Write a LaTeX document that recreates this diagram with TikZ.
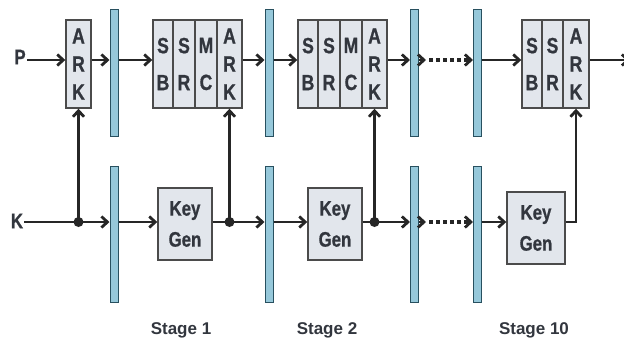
\documentclass[tikz,border=0pt]{standalone}
\usepackage{fontspec}
\setmainfont{Liberation Sans}
\newfontfamily\condfont{Liberation Sans}[UprightFont={* Bold}, BoldFont={* Bold}, FakeStretch=0.8, FakeBold=0.8]
\usetikzlibrary{arrows.meta}
\definecolor{boxfill}{RGB}{226,230,236}
\definecolor{boxline}{RGB}{75,75,75}
\definecolor{barfill}{RGB}{150,200,218}
\definecolor{barline}{RGB}{40,80,95}
\definecolor{txt}{RGB}{50,54,62}
\tikzset{
  cell/.style={draw=boxline, fill=boxfill, line width=1.4pt, minimum height=88pt, inner sep=0pt, text=txt, align=center},
  arkcell/.style={cell, font=\condfont\fontsize{22}{28}\selectfont},
  subcell/.style={cell, font=\condfont\fontsize{22}{37}\selectfont},
  gen/.style={draw=boxline, fill=boxfill, line width=1.4pt, minimum width=54pt, minimum height=72pt, inner sep=0pt, text=txt, align=center, font=\condfont\fontsize{21}{31}\selectfont},
  regt/.style={draw=barline, fill=barfill, line width=1pt, minimum width=8pt, minimum height=127pt, inner sep=0pt},
  regb/.style={draw=barline, fill=barfill, line width=1pt, minimum width=8pt, minimum height=136pt, inner sep=0pt},
  wire/.style={line width=2.8pt, black!85},
  arr/.style={wire, -{Straight Barb[length=6pt,width=11pt]}},
  dots/.style={line width=4pt, black!85, dash pattern=on 4pt off 3pt},
  jdot/.style={circle, fill=black!85, inner sep=0pt, minimum size=10pt},
  lbl/.style={font=\bfseries\fontsize{17}{20}\selectfont, text=txt},
  io/.style={font=\condfont\fontsize{21}{22}\selectfont, text=txt, inner sep=1pt}
}
\begin{document}
\begin{tikzpicture}[x=1pt,y=-1pt]
\useasboundingbox (0,0) rectangle (624,348);
% inputs
\node[io] (P) at (20,57) {P};
\node[io] (K) at (17,221) {K};
% initial ARK
\node[arkcell, minimum width=25pt] (ark0) at (78.5,64) {A\\R\\K};
% register bars
\node[regt] (b1t) at (114,72.5) {};
\node[regb] (b1b) at (114,234) {};
\node[regt] (b2t) at (269,72.5) {};
\node[regb] (b2b) at (269,234) {};
\node[regt] (b3t) at (414.5,72.5) {};
\node[regb] (b3b) at (414.5,234) {};
\node[regt] (b4t) at (477.5,72.5) {};
\node[regb] (b4b) at (477.5,234) {};
% stage 1
\node[subcell, minimum width=20pt] (sb1) at (163,64) {S\\B};
\node[subcell, minimum width=22pt] (sr1) at (184,64) {S\\R};
\node[subcell, minimum width=22pt] (mc1) at (206,64) {M\\C};
\node[arkcell, minimum width=25pt] (ark1) at (229.5,64) {A\\R\\K};
% stage 2
\node[subcell, minimum width=20pt] (sb2) at (308,64) {S\\B};
\node[subcell, minimum width=22pt] (sr2) at (329,64) {S\\R};
\node[subcell, minimum width=22pt] (mc2) at (351,64) {M\\C};
\node[arkcell, minimum width=25pt] (ark2) at (374.5,64) {A\\R\\K};
% stage 10
\node[subcell, minimum width=20pt] (sb10) at (532,64) {S\\B};
\node[subcell, minimum width=21pt] (sr10) at (552.5,64) {S\\R};
\node[arkcell, minimum width=26pt] (ark10) at (576,64) {A\\R\\K};
% key generators
\node[gen] (kg1) at (185,224) {Key\\Gen};
\node[gen] (kg2) at (335,224) {Key\\Gen};
\node[gen, minimum width=58pt] (kg10) at (536,228) {Key\\Gen};
% stage labels
\node[lbl] (st1) at (181,330) {Stage 1};
\node[lbl] (st2) at (327,330) {Stage 2};
\node[lbl] (st10) at (534,330) {Stage 10};
% top data path
\coordinate (out) at (630,60);
\coordinate (yt) at (0,60);
\coordinate (yb) at (0,222);
\draw[arr] (P.east |- yt) -- (ark0.west |- yt);
\draw[arr] (ark0.east |- yt) -- (b1t.west |- yt);
\draw[arr] (b1t.east |- yt) -- (sb1.west |- yt);
\draw[arr] (ark1.east |- yt) -- (b2t.west |- yt);
\draw[arr] (b2t.east |- yt) -- (sb2.west |- yt);
\draw[arr] (ark2.east |- yt) -- (b3t.west |- yt);
\draw[arr] (b3t.east |- yt) -- ++(7,0);
\draw[dots] ([xshift=10pt]b3t.east |- yt) -- ([xshift=-5pt]b4t.west |- yt);
\draw[arr] ([xshift=-7pt]b4t.west |- yt) -- (b4t.west |- yt);
\draw[arr] (b4t.east |- yt) -- (sb10.west |- yt);
\draw[arr] (ark10.east |- yt) -- (out);
% bottom key path
\coordinate (j0) at (ark0.south |- yb);
\coordinate (j1) at (ark1.south |- yb);
\coordinate (j2) at (ark2.south |- yb);
\draw[arr] (K.east |- yb) -- (b1b.west |- yb);
\draw[arr] (j0) -- (ark0.south);
\draw[arr] (b1b.east |- yb) -- (kg1.west |- yb);
\draw[arr] (kg1.east |- yb) -- (b2b.west |- yb);
\draw[arr] (j1) -- (ark1.south);
\draw[arr] (b2b.east |- yb) -- (kg2.west |- yb);
\draw[arr] (kg2.east |- yb) -- (b3b.west |- yb);
\draw[arr] (j2) -- (ark2.south);
\draw[arr] (b3b.east |- yb) -- ++(7,0);
\draw[dots] ([xshift=10pt]b3b.east |- yb) -- ([xshift=-5pt]b4b.west |- yb);
\draw[arr] ([xshift=-7pt]b4b.west |- yb) -- (b4b.west |- yb);
\draw[arr] (b4b.east |- yb) -- (kg10.west |- yb);
\draw[arr] (kg10.east |- yb) -| (ark10.south);
\node[jdot] (d0) at (j0) {};
\node[jdot] (d1) at (j1) {};
\node[jdot] (d2) at (j2) {};
\end{tikzpicture}
\end{document}
